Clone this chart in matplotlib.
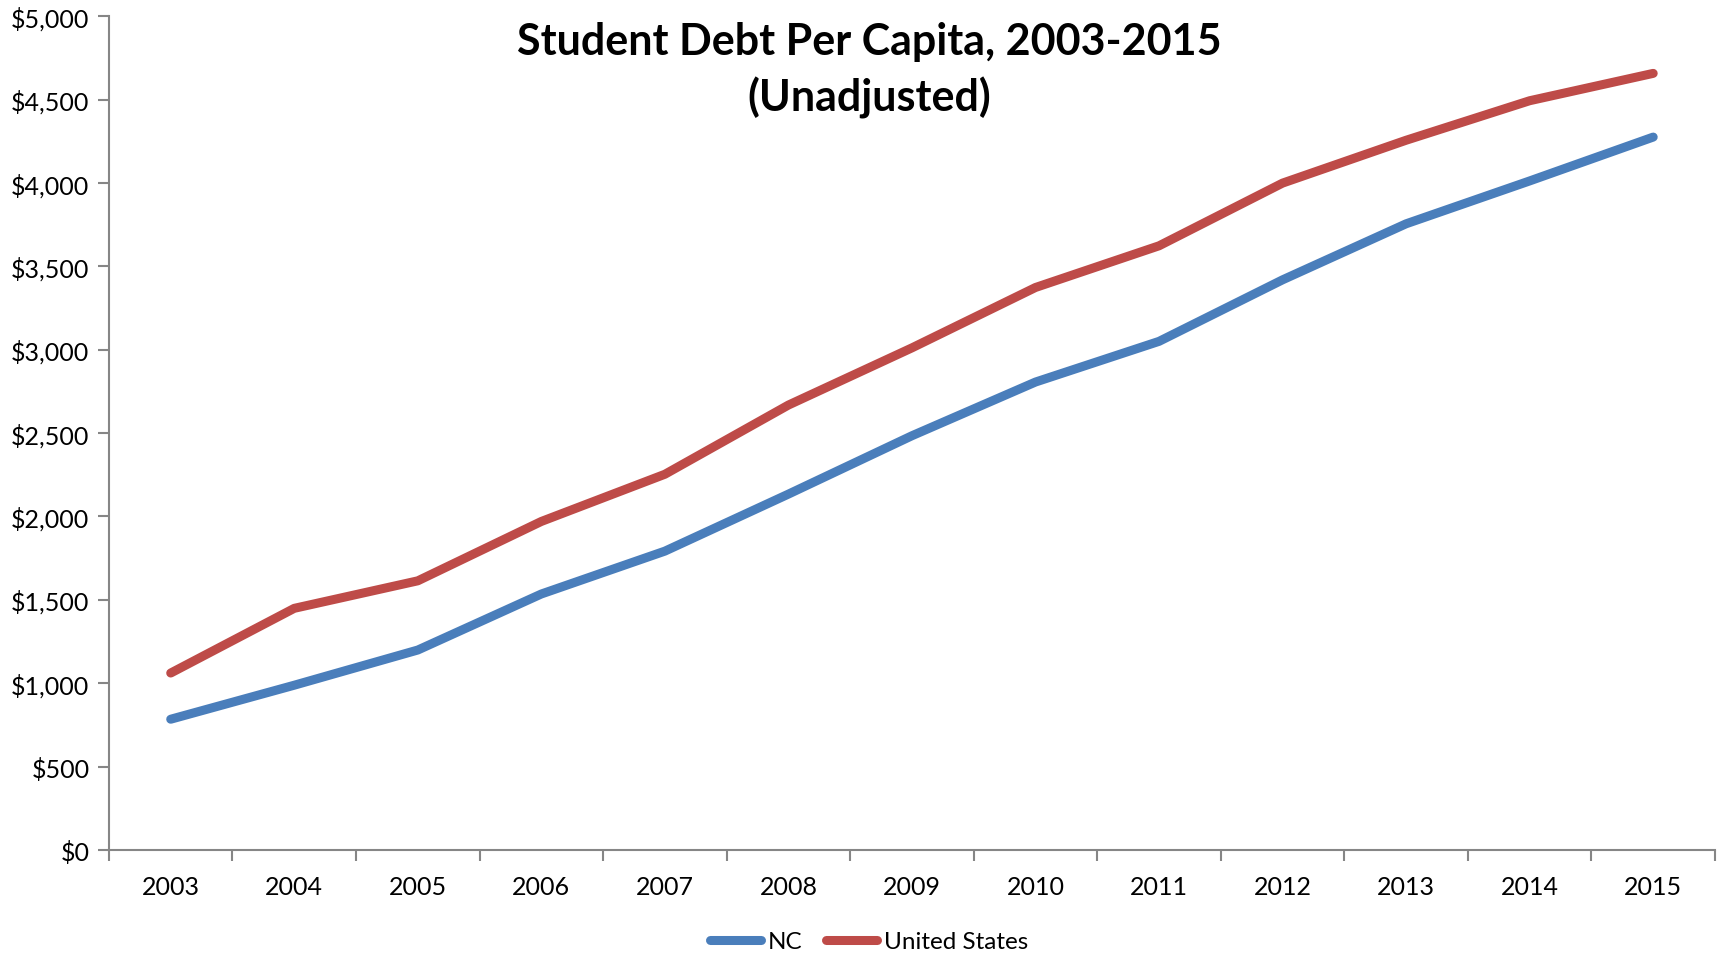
import numpy as np
import matplotlib.pyplot as plt
from matplotlib.ticker import FuncFormatter, FixedLocator

years = [2003, 2004, 2005, 2006, 2007, 2008, 2009, 2010, 2011, 2012, 2013, 2014, 2015]
nc = [784, 988, 1199, 1535, 1792, 2134, 2484, 2806, 3050, 3419, 3755, 4012, 4275]
us = [1061, 1449, 1614, 1970, 2253, 2668, 3011, 3373, 3623, 3999, 4256, 4493, 4657]

plt.rcParams['font.family'] = ['Lato', 'DejaVu Sans']

fig = plt.figure(figsize=(17.21, 9.54), dpi=100)
ax = fig.add_axes([0.0633, 0.108, 0.9332, 0.874])

x = np.arange(len(years))
ax.plot(x, nc, color='#4A7EBB', lw=6.5, solid_capstyle='round', label='NC')
ax.plot(x, us, color='#BE4B48', lw=6.5, solid_capstyle='round', label='United States')

ax.set_xlim(-0.5, len(years) - 0.5)
ax.set_ylim(0, 5000)
ax.set_yticks(np.arange(0, 5001, 500))
ax.yaxis.set_major_formatter(FuncFormatter(lambda v, p: '${:,.0f}'.format(v)))
ax.set_xticks(x)
ax.set_xticklabels([str(y) for y in years])
ax.xaxis.set_minor_locator(FixedLocator(np.arange(-0.5, len(years), 1)))

gray = '#868686'
for s in ['top', 'right']:
    ax.spines[s].set_visible(False)
for s in ['left', 'bottom']:
    ax.spines[s].set_color(gray)
    ax.spines[s].set_linewidth(1.5)
ax.tick_params(axis='y', length=8, width=1.5, color=gray, labelsize=18, pad=6)
ax.tick_params(axis='x', which='major', length=0, labelsize=18, pad=18)
ax.tick_params(axis='x', which='minor', length=8, width=1.5, color=gray)

fig.text(0.505, 0.926, 'Student Debt Per Capita, 2003-2015\n(Unadjusted)',
         ha='center', va='center', fontsize=31, fontweight='bold', linespacing=1.45)

fig.legend(loc='center', bbox_to_anchor=(0.505, 0.012), ncol=2, frameon=False,
           fontsize=17.5, handlelength=2.1, handletextpad=0.25, columnspacing=1.0)

fig.savefig('out.png', dpi=100)
